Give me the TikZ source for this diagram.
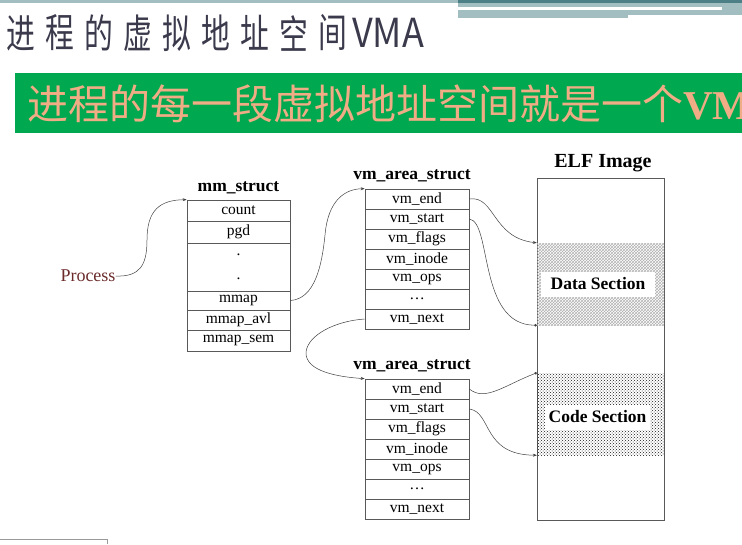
\documentclass[tikz,border=0pt]{standalone}
\usepackage{fontspec}
\setmainfont{Liberation Serif}
\newfontfamily\cjk{Noto Sans CJK SC}
\usetikzlibrary{arrows.meta,patterns}

\definecolor{barlight}{HTML}{A3BEC1}
\definecolor{bardark}{HTML}{4D7F87}
\definecolor{titlegray}{HTML}{3A3A4C}
\definecolor{bannergreen}{HTML}{00A850}
\definecolor{bannertext}{HTML}{F0AC84}
\definecolor{procred}{HTML}{6B2B2B}

\tikzset{
  field/.style={draw=black!65, line width=0.7pt, minimum width=104pt,
    minimum height=20pt, inner sep=0pt, font=\fontsize{15.5}{20}\selectfont},
  header/.style={inner sep=0pt, font=\fontsize{17.5}{17.5}\selectfont\bfseries},
  seclabel/.style={fill=white, inner sep=0pt, minimum height=25pt,
    font=\fontsize{17.5}{17.5}\selectfont\bfseries},
  link/.style={draw=black!75, line width=0.5pt},
  tip/.style={-{Stealth[length=4pt,width=3pt]}},
  dotend/.style={-{Circle[length=2.6pt]}},
  titlechar/.style={inner sep=0pt, text=titlegray, font=\cjk\fontsize{40}{40}\selectfont}
}

\begin{document}
\begin{tikzpicture}[x=1pt,y=-1pt]
\useasboundingbox (0,0) rectangle (742,544);

% slide decoration
\fill[barlight] (0,0) rectangle (742,3);
\fill[bardark] (458,0) rectangle (742,3);
\fill[barlight] (458,3) rectangle (742,7);
\fill[barlight] (722,7) rectangle (742,15);
\fill[barlight] (458,10) rectangle (742,15);
\fill[barlight] (458,15) rectangle (628,18);
\draw[black!40, line width=0.8pt] (0,539) -- (107,539) -- (107,544);

% title
\foreach \c [count=\i from 0] in {进,程,的,虚,拟,地,址,空,间}
  \node[titlechar] (t\i) at (21+39*\i,33) {\scalebox{0.72}[1]{\c}};
\node[titlechar, anchor=west] (tvma) at (352,33) {\scalebox{0.9}[1]{VMA}};

% banner
\fill[bannergreen] (15,73) rectangle (742,133);
\begin{scope}
\clip (15,73) rectangle (742,133);
\node[anchor=west, inner sep=0pt, text=bannertext] (banner) at (27,104)
  {{\cjk\fontsize{41}{41}\selectfont 进程的每一段虚拟地址空间就是一个}{\fontsize{41}{41}\selectfont\bfseries VMA}};
\end{scope}

% mm_struct
\node[header] (mmhead) at (238.5,188) {mm\_struct};
\node[field, minimum width=103pt, minimum height=21pt] (count) at (238.5,210.5) {count};
\node[field, minimum width=103pt, minimum height=22pt] (pgd) at (238.5,232) {pgd};
\node[field, minimum width=103pt, minimum height=48pt, align=center] (gap) at (238.5,267) {.\\[4pt].};
\node[field, minimum width=103pt, minimum height=19pt] (mmap) at (238.5,300.5) {mmap};
\node[field, minimum width=103pt, minimum height=20pt] (mmapavl) at (238.5,320) {mmap\_avl};
\node[field, minimum width=103pt, minimum height=21pt] (mmapsem) at (238.5,340.5) {mmap\_sem};

\node[inner sep=0pt, text=procred, font=\fontsize{18}{18}\selectfont] (proc) at (88,276) {Process};

% vm_area_struct (data)
\node[header] (vmahead1) at (412,176) {vm\_area\_struct};
\foreach \f [count=\i] in {vm\_end,vm\_start,vm\_flags,vm\_inode,vm\_ops,\dots,vm\_next}
  \node[field] (a\i) at (417,179+20*\i) {\f};

% vm_area_struct (code)
\node[header] (vmahead2) at (412,366) {vm\_area\_struct};
\foreach \f [count=\i] in {vm\_end,vm\_start,vm\_flags,vm\_inode,vm\_ops,\dots,vm\_next}
  \node[field] (b\i) at (417,369+20*\i) {\f};

% ELF image
\node[header, font=\fontsize{20}{20}\selectfont\bfseries] (elfhead) at (603,163) {ELF Image};
\node[draw=black!65, line width=0.7pt, minimum width=127pt, minimum height=342pt, inner sep=0pt] (elf) at (600.5,349) {};
\node[pattern=crosshatch, pattern color=black!30, minimum width=127pt, minimum height=82pt, inner sep=0pt] (data) at (600.5,284) {};
\node[pattern=crosshatch dots, pattern color=black!90, minimum width=127pt, minimum height=82pt, inner sep=0pt] (code) at (600.5,414) {};
\node[seclabel, minimum width=114pt] (datalbl) at (598,284) {Data Section};
\node[seclabel, minimum width=105pt] (codelbl) at (597.5,417) {Code Section};

% connectors
\draw[link, tip] (proc.east) .. controls (140,277) and (147,265) .. (147,240)
  .. controls (147,210) and (160,200) .. (count.north west);
\draw[link, tip] (mmap.east) .. controls (315,299) and (322,265) .. (325,235)
  .. controls (328,200) and (345,189) .. (a1.north west);
\draw[link, tip] (a7.west) .. controls (335,321) and (308,335) .. (306,352)
  .. controls (305,372) and (340,377) .. (b1.north west);
\draw[link, tip] (a1.east) .. controls (495,195) and (492,238) .. (data.north west);
\draw[link, dotend] (a2.east) .. controls (492,222) and (478,325) .. (data.south west);
\draw[link, dotend] (b1.east) .. controls (485,402) and (505,385) .. (code.north west);
\draw[link, tip] (b2.east) .. controls (492,412) and (482,455) .. (code.south west);

\end{tikzpicture}
\end{document}
